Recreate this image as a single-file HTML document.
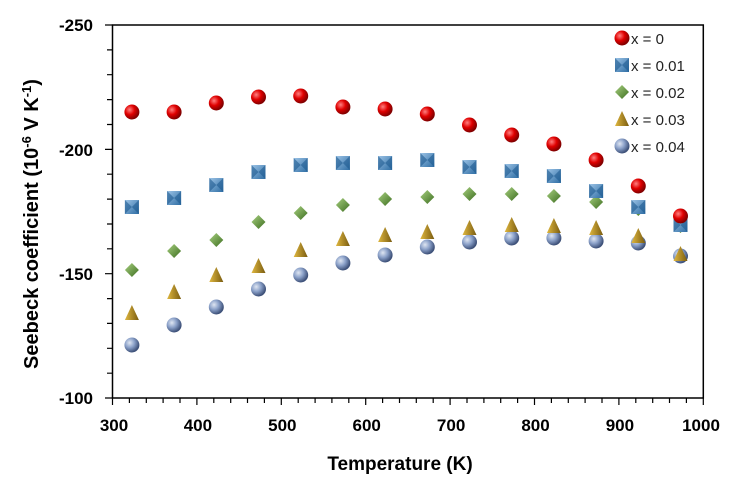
<!DOCTYPE html>
<html><head><meta charset="utf-8"><style>body{margin:0;background:#fff}svg{display:block}</style></head>
<body>
<svg width="735" height="487" xmlns="http://www.w3.org/2000/svg" xmlns:xlink="http://www.w3.org/1999/xlink" font-family="Liberation Sans, sans-serif">
<defs>
<radialGradient id="r" cx="35%" cy="35%" r="65%"><stop offset="0" stop-color="#ff8080"/><stop offset="0.5" stop-color="#e00000"/><stop offset="1" stop-color="#800000"/></radialGradient>
<radialGradient id="g" cx="35%" cy="35%" r="65%"><stop offset="0" stop-color="#dfe6f2"/><stop offset="0.5" stop-color="#8aa0c8"/><stop offset="1" stop-color="#3d5078"/></radialGradient>
<linearGradient id="b" x1="0" y1="0" x2="1" y2="1"><stop offset="0" stop-color="#9cc3e6"/><stop offset="1" stop-color="#2e6da4"/></linearGradient>
<linearGradient id="y" x1="0" y1="0" x2="1" y2="0"><stop offset="0" stop-color="#e0b840"/><stop offset="1" stop-color="#7a5c10"/></linearGradient>
<linearGradient id="gr" x1="0" y1="0" x2="1" y2="1"><stop offset="0" stop-color="#a8d080"/><stop offset="1" stop-color="#3d6e20"/></linearGradient>
<circle id="sr" r="7.5" fill="url(#r)"/>
<circle id="sg" r="7.5" fill="url(#g)"/>
<g id="sb"><rect x="-7" y="-7" width="14" height="14" fill="url(#b)"/><path d="M-7 -7 L0 0 L-7 7Z M7 -7 L0 0 L7 7Z" fill="#1e5a90" opacity="0.6"/></g>
<path id="sd" d="M0 -7 L7 0 L0 7 L-7 0Z" fill="url(#gr)"/>
<path id="sy" d="M0 -8 L7 7 L-7 7Z" fill="url(#y)"/>
</defs>
<rect x="112.5" y="25" width="590.8" height="373" fill="none" stroke="#000" stroke-width="1.5"/>
<path stroke="#000" stroke-width="1.2" fill="none" d="
M112.5 398V405M129.4 398V403M146.3 398V403M163.1 398V403M180 398V403M196.9 398V405M213.8 398V403M230.7 398V403M247.5 398V403M264.4 398V403
M281.3 398V405M298.2 398V403M315.1 398V403M331.9 398V403M348.8 398V403M365.7 398V405M382.6 398V403M399.5 398V403M416.3 398V403M433.2 398V403
M450.1 398V405M467 398V403M483.9 398V403M500.7 398V403M517.6 398V403M534.5 398V405M551.4 398V403M568.3 398V403M585.1 398V403M602 398V403
M618.9 398V405M635.8 398V403M652.7 398V403M669.5 398V403M686.4 398V403M703.3 398V405
M112.5 25H105M112.5 49.9H107M112.5 74.7H107M112.5 99.6H107M112.5 124.5H107M112.5 149.4H105M112.5 174.2H107M112.5 199.1H107
M112.5 224H107M112.5 248.8H107M112.5 273.7H105M112.5 298.6H107M112.5 323.4H107M112.5 348.3H107M112.5 373.2H107M112.5 398H105"/>
<g font-size="17" font-weight="bold" fill="#000" text-anchor="end">
<text x="93" y="31">-250</text><text x="93" y="156">-200</text><text x="93" y="280">-150</text><text x="93" y="404">-100</text>
</g>
<g font-size="17" font-weight="bold" fill="#000" text-anchor="middle">
<text x="114" y="431">300</text><text x="197.9" y="431">400</text><text x="282.3" y="431">500</text><text x="366.7" y="431">600</text><text x="451.1" y="431">700</text><text x="535.5" y="431">800</text><text x="619.9" y="431">900</text><text x="701" y="431">1000</text>
<text x="400" y="470" font-size="19">Temperature (K)</text>
</g>
<text transform="translate(38,224) rotate(-90)" font-size="20" font-weight="bold" text-anchor="middle">Seebeck coefficient (10<tspan dy="-7" font-size="13">-6</tspan><tspan dy="7"> V K</tspan><tspan dy="-7" font-size="13">-1</tspan><tspan dy="7">)</tspan></text>

<use xlink:href="#sg" x="131.9" y="345"/><use xlink:href="#sg" x="174.1" y="325"/><use xlink:href="#sg" x="216.3" y="307"/><use xlink:href="#sg" x="258.5" y="289"/><use xlink:href="#sg" x="300.7" y="275"/><use xlink:href="#sg" x="342.9" y="263"/><use xlink:href="#sg" x="385.1" y="255"/><use xlink:href="#sg" x="427.3" y="247"/><use xlink:href="#sg" x="469.5" y="242"/><use xlink:href="#sg" x="511.7" y="238"/><use xlink:href="#sg" x="553.9" y="238"/><use xlink:href="#sg" x="596.1" y="241"/><use xlink:href="#sg" x="638.3" y="243"/><use xlink:href="#sg" x="680.5" y="256"/>
<use xlink:href="#sy" x="131.9" y="313"/><use xlink:href="#sy" x="174.1" y="292"/><use xlink:href="#sy" x="216.3" y="275"/><use xlink:href="#sy" x="258.5" y="266"/><use xlink:href="#sy" x="300.7" y="250"/><use xlink:href="#sy" x="342.9" y="239"/><use xlink:href="#sy" x="385.1" y="235"/><use xlink:href="#sy" x="427.3" y="232"/><use xlink:href="#sy" x="469.5" y="228"/><use xlink:href="#sy" x="511.7" y="225"/><use xlink:href="#sy" x="553.9" y="226"/><use xlink:href="#sy" x="596.1" y="228"/><use xlink:href="#sy" x="638.3" y="236"/><use xlink:href="#sy" x="680.5" y="254"/>
<use xlink:href="#sd" x="131.9" y="270"/><use xlink:href="#sd" x="174.1" y="251"/><use xlink:href="#sd" x="216.3" y="240"/><use xlink:href="#sd" x="258.5" y="222"/><use xlink:href="#sd" x="300.7" y="213"/><use xlink:href="#sd" x="342.9" y="205"/><use xlink:href="#sd" x="385.1" y="199"/><use xlink:href="#sd" x="427.3" y="197"/><use xlink:href="#sd" x="469.5" y="194"/><use xlink:href="#sd" x="511.7" y="194"/><use xlink:href="#sd" x="553.9" y="196"/><use xlink:href="#sd" x="596.1" y="202"/><use xlink:href="#sd" x="638.3" y="209"/><use xlink:href="#sd" x="680.5" y="226"/>
<use xlink:href="#sb" x="131.9" y="207"/><use xlink:href="#sb" x="174.1" y="198"/><use xlink:href="#sb" x="216.3" y="185"/><use xlink:href="#sb" x="258.5" y="172"/><use xlink:href="#sb" x="300.7" y="165"/><use xlink:href="#sb" x="342.9" y="163"/><use xlink:href="#sb" x="385.1" y="163"/><use xlink:href="#sb" x="427.3" y="160"/><use xlink:href="#sb" x="469.5" y="167"/><use xlink:href="#sb" x="511.7" y="171"/><use xlink:href="#sb" x="553.9" y="176"/><use xlink:href="#sb" x="596.1" y="191"/><use xlink:href="#sb" x="638.3" y="207"/><use xlink:href="#sb" x="680.5" y="225"/>
<use xlink:href="#sr" x="131.9" y="112"/><use xlink:href="#sr" x="174.1" y="112"/><use xlink:href="#sr" x="216.3" y="103"/><use xlink:href="#sr" x="258.5" y="97"/><use xlink:href="#sr" x="300.7" y="96"/><use xlink:href="#sr" x="342.9" y="107"/><use xlink:href="#sr" x="385.1" y="109"/><use xlink:href="#sr" x="427.3" y="114"/><use xlink:href="#sr" x="469.5" y="125"/><use xlink:href="#sr" x="511.7" y="135"/><use xlink:href="#sr" x="553.9" y="144"/><use xlink:href="#sr" x="596.1" y="160"/><use xlink:href="#sr" x="638.3" y="186"/><use xlink:href="#sr" x="680.5" y="216"/>

<g font-size="15" fill="#222">
<use xlink:href="#sr" x="622" y="38"/><text x="631" y="44">x = 0</text>
<use xlink:href="#sb" x="622" y="65"/><text x="631" y="71">x = 0.01</text>
<use xlink:href="#sd" x="622" y="92"/><text x="631" y="98">x = 0.02</text>
<use xlink:href="#sy" x="622" y="119"/><text x="631" y="125">x = 0.03</text>
<use xlink:href="#sg" x="622" y="146"/><text x="631" y="152">x = 0.04</text>
</g>
</svg>
</body></html>
